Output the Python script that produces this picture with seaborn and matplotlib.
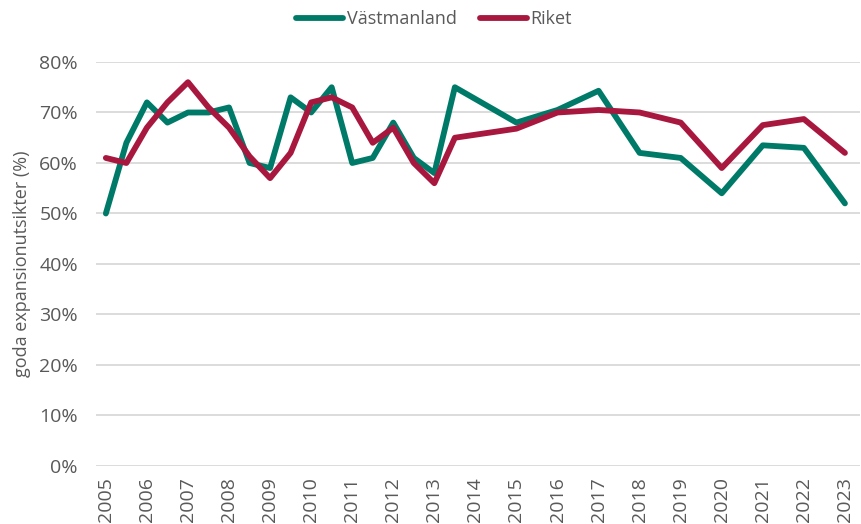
import numpy as np
import pandas as pd
import matplotlib
matplotlib.use('Agg')
import matplotlib.pyplot as plt
import seaborn as sns
from matplotlib.ticker import PercentFormatter

# half-year values 2005-2013, then yearly from 2015
years = [2005, 2005.5, 2006, 2006.5, 2007, 2007.5, 2008, 2008.5, 2009, 2009.5,
         2010, 2010.5, 2011, 2011.5, 2012, 2012.5, 2013, 2013.5,
         2015, 2016, 2017, 2018, 2019, 2020, 2021, 2022, 2023]
vastmanland = [50, 64, 72, 68, 70, 70, 71, 60, 59, 73,
               70, 75, 60, 61, 68, 61, 58, 75,
               68, 70.5, 74.3, 62, 61, 54, 63.5, 63, 52]
riket = [61, 60, 67, 72, 76, 71, 67, 61.3, 57, 62,
         72, 73, 71, 64, 67, 60, 56, 65,
         66.8, 70, 70.5, 70, 68, 59, 67.5, 68.7, 62]
tick_years = list(range(2005, 2024))

series_names = ['Västmanland', 'Riket']
colors = ['#007a68', '#a8173e']

df = pd.concat([
    pd.DataFrame({'year': years, 'value': vastmanland, 'serie': 'Västmanland'}),
    pd.DataFrame({'year': years, 'value': riket, 'serie': 'Riket'}),
], ignore_index=True)

sns.set_theme(style='white')
plt.rcParams['font.family'] = ['Open Sans', 'DejaVu Sans']
text_col = '#595959'

fig = plt.figure(figsize=(8.61, 5.24), dpi=100)
ax = fig.add_axes([0.1115, 0.1107, 0.887, 0.771])

sns.lineplot(data=df, x='year', y='value', hue='serie', hue_order=series_names,
             palette=colors, linewidth=4.2, ax=ax, legend=True)

ax.set_xlim(2004.76, 2023.36)
ax.set_ylim(0, 80)
ax.set_yticks(np.arange(0, 81, 10))
ax.yaxis.set_major_formatter(PercentFormatter(decimals=0))
ax.set_xticks(tick_years)
ax.set_xticklabels([str(y) for y in tick_years], rotation=90)
ax.grid(axis='y', color='#d9d9d9', linewidth=1.3)
ax.set_axisbelow(True)
for s in ax.spines.values():
    s.set_visible(False)
ax.tick_params(axis='y', length=0, pad=13, labelsize=14, labelcolor=text_col)
ax.tick_params(axis='x', length=0, pad=8, labelsize=14, labelcolor=text_col)
ax.set_xlabel('')
ax.set_ylabel('goda expansionutsikter (%)', fontsize=13, color=text_col, labelpad=6)

handles, labels = ax.get_legend_handles_labels()
ax.legend(handles, labels, loc='center', bbox_to_anchor=(0.504, 0.964),
          bbox_transform=fig.transFigure, ncol=2, frameon=False,
          fontsize=13, handlelength=2.6, handletextpad=0.2, columnspacing=1.3,
          labelcolor=text_col)

plt.savefig('out.png', dpi=100)
